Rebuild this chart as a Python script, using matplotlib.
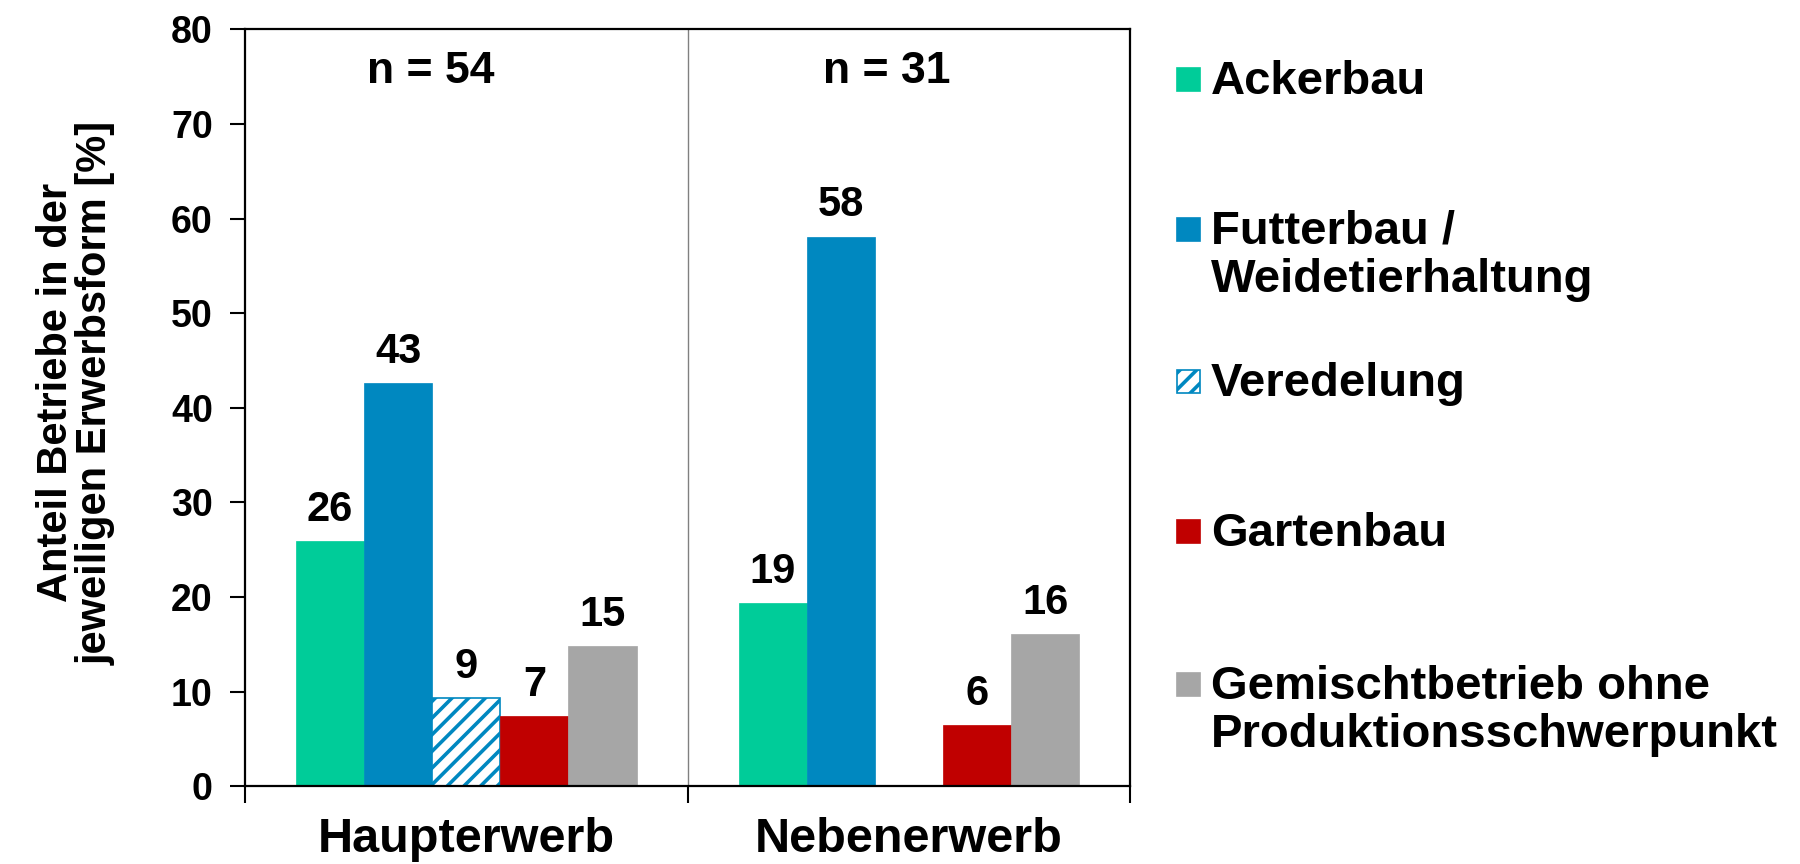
import numpy as np
import matplotlib
matplotlib.use("Agg")
import matplotlib.pyplot as plt
from matplotlib.patches import Rectangle

# data
groups = ["Haupterwerb", "Nebenerwerb"]
group_n = ["n = 54", "n = 31"]
types = ["Ackerbau", "Futterbau /\nWeidetierhaltung", "Veredelung",
         "Gartenbau", "Gemischtbetrieb ohne\nProduktionsschwerpunkt"]
haupt = [25.9, 42.6, 9.3, 7.4, 14.8]
neben = [19.4, 58.1, np.nan, 6.5, 16.1]

colors = ["#00CC99", "#0088C0", "white", "#C00000", "#A6A6A6"]
edges = ["#00CC99", "#0088C0", "#0088C0", "#C00000", "#A6A6A6"]
hatches = [None, None, "//", None, None]

plt.rcParams["font.family"] = ["Liberation Sans", "DejaVu Sans"]
plt.rcParams["font.weight"] = "bold"
plt.rcParams["hatch.linewidth"] = 2.6

fig = plt.figure(figsize=(18, 8.64), dpi=100)
ax = fig.add_axes([0.136, 0.090, 0.492, 0.876])

w = 0.154
x = np.arange(len(groups))
vals = np.array([haupt, neben])
for j in range(len(types)):
    for i in range(len(groups)):
        v = vals[i, j]
        if np.isnan(v):
            continue
        xp = x[i] + (j - 2) * w
        ax.bar(xp, v, width=w, color=colors[j], edgecolor=edges[j],
               hatch=hatches[j], linewidth=1.2 if hatches[j] else 0.5, zorder=2)
        ax.annotate(f"{v:.0f}", (xp, v), xytext=(0, 8), textcoords="offset points",
                    ha="center", va="bottom", fontsize=30, fontweight="bold")

# the n labels sit a little left of the group centre
n_shift = [-0.08, -0.05]
for i, t in enumerate(group_n):
    ax.text(x[i] + n_shift[i], 75.6, t, ha="center", va="center", fontsize=32,
            fontweight="bold")

ax.axvline(0.5, color="#808080", lw=1, zorder=1)

ax.set_xlim(-0.5, 1.5)
ax.set_ylim(0, 80)
ax.set_yticks(range(0, 81, 10))
ax.set_xticks([-0.5, 0.5, 1.5])
ax.set_xticklabels([])
ax.set_xticks(x, minor=True)
ax.set_xticklabels(groups, minor=True, fontsize=35, fontweight="bold")
ax.tick_params(axis="x", which="major", direction="out", length=12, width=1.5)
ax.tick_params(axis="x", which="minor", length=0, pad=22)
ax.tick_params(axis="y", direction="out", length=11, width=1.5, labelsize=27, pad=12)
for lab in ax.get_yticklabels():
    lab.set_fontweight("bold")
for s in ax.spines.values():
    s.set_linewidth(1.6)

ax.set_ylabel("Anteil Betriebe in der\njeweiligen Erwerbsform [%]", fontsize=30,
              fontweight="bold", linespacing=1.0)
ax.yaxis.set_label_coords(-0.146, 0.52)

# legend, handle next to the first line of each label
leg_y = [80, 230, 382, 532, 685]
for j, lab in enumerate(types):
    yc = 1 - leg_y[j] / 864
    fig.patches.append(Rectangle((1177 / 1800, yc - 11 / 864), 23 / 1800, 23 / 864,
                                 transform=fig.transFigure, facecolor=colors[j],
                                 edgecolor=edges[j], hatch=hatches[j], lw=1.2))
    fig.text(1211 / 1800, yc + 20 / 864, lab, ha="left", va="top", fontsize=34,
             fontweight="bold", linespacing=1.12)

fig.savefig("out.png", dpi=100)
